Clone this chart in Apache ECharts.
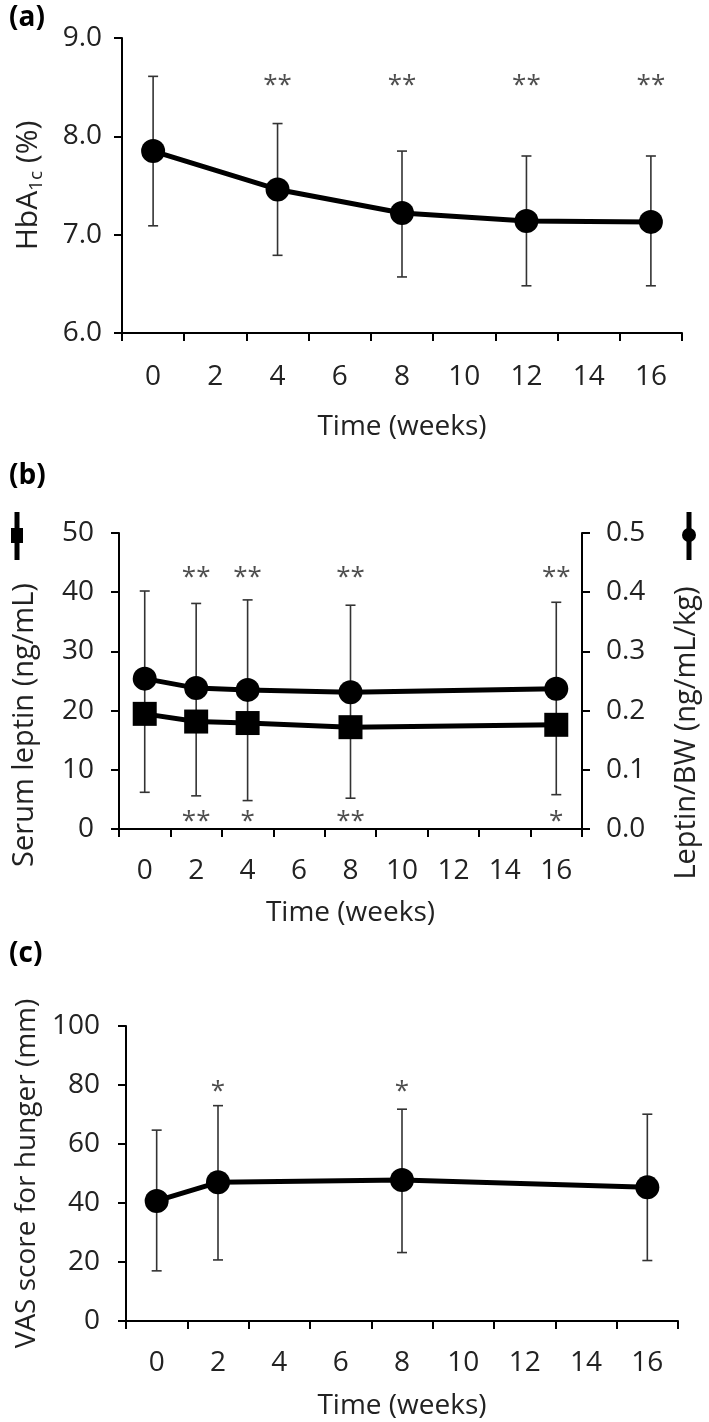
<!DOCTYPE html>
<html>
<head>
<meta charset="utf-8">
<script src="https://cdn.jsdelivr.net/npm/echarts@6/dist/echarts.min.js"></script>
<style>
html,body{margin:0;padding:0;background:#fff;}
#c{width:709px;height:1422px;}
</style>
</head>
<body>
<div id="c"></div>
<script>
// ---- data ----
const ticksX = ['0','2','4','6','8','10','12','14','16'];

// (a) HbA1c
const weeksA = ['0','4','8','12','16'];
const hba1cMean = [7.85, 7.46, 7.22, 7.14, 7.13];
const hba1cHigh = [8.61, 8.13, 7.85, 7.80, 7.80];
const hba1cLow  = [7.09, 6.79, 6.57, 6.48, 6.48];
const starsAWeeks = ['4','8','12','16'];
const starsAText  = ['**','**','**','**'];

// (b) leptin
const weeksB = ['0','2','4','8','16'];
const leptinMean = [19.45, 18.15, 17.9, 17.2, 17.6];
const leptinLow  = [6.2, 5.6, 4.8, 5.2, 5.8];
const ratioMean  = [0.254, 0.238, 0.235, 0.231, 0.237];
const ratioHigh  = [0.402, 0.381, 0.387, 0.378, 0.383];
const starsBTopWeeks = ['2','4','8','16'];
const starsBTopText  = ['**','**','**','**'];
const starsBBotWeeks = ['2','4','8','16'];
const starsBBotText  = ['**','*','**','*'];

// (c) VAS hunger
const weeksC = ['0','2','8','16'];
const vasMean = [40.7, 47.0, 47.8, 45.3];
const vasHigh = [64.7, 73.0, 71.8, 70.1];
const vasLow  = [17.0, 20.7, 23.2, 20.5];
const starsCWeeks = ['2','8'];
const starsCText  = ['*','*'];

// ---- styling ----
const FONT = '"Open Sans", "Noto Sans", sans-serif';
const TXT = '#222';
const ERR = '#333';
const chart = echarts.init(document.getElementById('c'), null, {renderer:'canvas'});

function capLine(x1,y1,x2,y2){
  return {type:'line', shape:{x1,y1,x2,y2}, style:{stroke:ERR, lineWidth:1.6}};
}
function errRender(capTop, capBottom, extendFn){
  return function(params, api){
    const x = api.value(0), lo = api.value(1), hi = api.value(2);
    const pLo = api.coord([x, lo]);
    const pHi = api.coord([x, hi]);
    let top = pHi[1], bot = pLo[1];
    if (extendFn) { const e = extendFn(params.dataIndex); if (e != null) top = Math.min(top, e); }
    const w = 5;
    const ch = [capLine(pLo[0], bot, pLo[0], top)];
    if (capTop) ch.push(capLine(pHi[0]-w, pHi[1], pHi[0]+w, pHi[1]));
    if (capBottom) ch.push(capLine(pLo[0]-w, pLo[1], pLo[0]+w, pLo[1]));
    return {type:'group', children: ch};
  };
}

function xAxisCfg(gi, nameGap, labelMargin){
  return {
    type:'category', gridIndex:gi, data:ticksX, boundaryGap:true,
    name:'Time (weeks)', nameLocation:'middle', nameGap:nameGap,
    nameTextStyle:{fontSize:28, color:TXT, fontFamily:FONT},
    axisLine:{lineStyle:{color:'#000', width:2}},
    axisTick:{show:true, inside:false, length:8, alignWithLabel:false, interval:0, lineStyle:{color:'#000', width:2}},
    axisLabel:{fontSize:28, color:TXT, fontFamily:FONT, margin:labelMargin, interval:0},
    splitLine:{show:false}
  };
}
function yAxisCfg(gi, o){
  return Object.assign({
    type:'value', gridIndex:gi,
    nameLocation:'middle', nameRotate:90,
    nameTextStyle:{fontSize:28, color:TXT, fontFamily:FONT},
    axisLine:{show:true, lineStyle:{color:'#000', width:2}},
    axisTick:{show:true, inside:false, length:8, lineStyle:{color:'#000', width:2}},
    splitLine:{show:false}
  }, o);
}

function pairs(weeks, vals){ return weeks.map((w,i)=>[w, vals[i]]); }
function triples(weeks, lo, hi){ return weeks.map((w,i)=>[w, lo[i], hi[i]]); }
function starSeries(xi, yi, weeks, texts, level){
  return {
    type:'scatter', xAxisIndex:xi, yAxisIndex:yi, symbolSize:0, silent:true, z:5,
    data: weeks.map((w,i)=>({value:[w, level], name:texts[i]})),
    label:{show:true, position:'inside', formatter:'{b}', fontSize:26, color:'#222', fontFamily:FONT, offset:[0,7]}
  };
}

const option = {
  animation:false,
  backgroundColor:'#fff',
  textStyle:{fontFamily:FONT},
  grid:[
    {left:122, top:38, width:560, height:295},
    {left:119, top:533, width:465, height:296},
    {left:126, top:1026, width:552, height:295}
  ],
  xAxis:[ xAxisCfg(0, 80, 30), xAxisCfg(1, 70, 28), xAxisCfg(2, 71, 28) ],
  yAxis:[
    yAxisCfg(0, {min:6, max:9, interval:1, name:'{m|HbA}{s|1c}{m| (%)}', nameGap:76,
      nameTextStyle:{fontSize:30, color:TXT, fontFamily:FONT,
        rich:{m:{fontSize:30, color:TXT, fontFamily:FONT, lineHeight:36}, s:{fontSize:19, color:TXT, fontFamily:FONT, lineHeight:13, verticalAlign:'bottom'}}},
      axisLabel:{fontSize:28, color:TXT, fontFamily:FONT, margin:20, formatter:v=>v.toFixed(1)}}),
    yAxisCfg(1, {min:0, max:50, interval:10, name:'Serum leptin (ng/mL)', nameGap:80,
      nameTextStyle:{fontSize:29, color:TXT, fontFamily:FONT, padding:[0,88,0,0]},
      axisLabel:{fontSize:28, color:TXT, fontFamily:FONT, margin:25}}),
    yAxisCfg(1, {position:'right', min:0, max:0.5, interval:0.1, name:'Leptin/BW (ng/mL/kg)', nameGap:90, nameRotate:90,
      nameTextStyle:{fontSize:29, color:TXT, fontFamily:FONT, padding:[0,104,0,0]},
      axisLabel:{fontSize:28, color:TXT, fontFamily:FONT, margin:24, formatter:v=>v.toFixed(1)}}),
    yAxisCfg(2, {min:0, max:100, interval:20, name:'VAS score for hunger (mm)', nameGap:80,
      nameTextStyle:{fontSize:28, color:TXT, fontFamily:FONT},
      axisLabel:{fontSize:28, color:TXT, fontFamily:FONT, margin:26}})
  ],
  graphic:[
    {type:'text', left:9, top:4, style:{text:'(a)', font:'bold 28px "Open Sans"', fill:'#000'}},
    {type:'text', left:9, top:462, style:{text:'(b)', font:'bold 28px "Open Sans"', fill:'#000'}},
    {type:'text', left:9, top:940, style:{text:'(c)', font:'bold 28px "Open Sans"', fill:'#000'}},
    // legend keys for panel (b)
    {type:'group', left:11, top:512, children:[
      {type:'rect', shape:{x:3.5, y:0, width:5, height:48}, style:{fill:'#000'}},
      {type:'rect', shape:{x:0, y:16, width:12, height:15}, style:{fill:'#000'}}
    ]},
    {type:'group', left:682, top:512, children:[
      {type:'rect', shape:{x:4.5, y:0, width:5, height:48}, style:{fill:'#000'}},
      {type:'circle', shape:{cx:7, cy:23, r:7}, style:{fill:'#000'}}
    ]}
  ],
  series:[
    // (a)
    {type:'custom', xAxisIndex:0, yAxisIndex:0, z:2, silent:true,
      renderItem: errRender(true, true), encode:{x:0, y:[1,2]},
      data: triples(weeksA, hba1cLow, hba1cHigh)},
    {type:'line', xAxisIndex:0, yAxisIndex:0, z:3, data:pairs(weeksA, hba1cMean),
      symbol:'circle', symbolSize:24, itemStyle:{color:'#000'}, lineStyle:{color:'#000', width:5}},
    starSeries(0, 0, starsAWeeks, starsAText, 8.59),
    // (b)
    {type:'custom', xAxisIndex:1, yAxisIndex:2, z:2, silent:true,
      renderItem: errRender(true, false), encode:{x:0, y:[1,2]},
      data: triples(weeksB, ratioMean, ratioHigh)},
    {type:'custom', xAxisIndex:1, yAxisIndex:1, z:2, silent:true,
      renderItem: errRender(false, true, function(i){
        try { return chart.convertToPixel({yAxisIndex:2}, ratioMean[i]); } catch(e){ return null; }
      }), encode:{x:0, y:[1,2]},
      data: triples(weeksB, leptinLow, leptinMean)},
    {type:'line', xAxisIndex:1, yAxisIndex:2, z:3, data:pairs(weeksB, ratioMean),
      symbol:'circle', symbolSize:24, itemStyle:{color:'#000'}, lineStyle:{color:'#000', width:5}},
    {type:'line', xAxisIndex:1, yAxisIndex:1, z:3, data:pairs(weeksB, leptinMean),
      symbol:'rect', symbolSize:24, itemStyle:{color:'#000'}, lineStyle:{color:'#000', width:5}},
    starSeries(1, 1, starsBTopWeeks, starsBTopText, 43.6),
    starSeries(1, 1, starsBBotWeeks, starsBBotText, 2.4),
    // (c)
    {type:'custom', xAxisIndex:2, yAxisIndex:3, z:2, silent:true,
      renderItem: errRender(true, true), encode:{x:0, y:[1,2]},
      data: triples(weeksC, vasLow, vasHigh)},
    {type:'line', xAxisIndex:2, yAxisIndex:3, z:3, data:pairs(weeksC, vasMean),
      symbol:'circle', symbolSize:24, itemStyle:{color:'#000'}, lineStyle:{color:'#000', width:5}},
    starSeries(2, 3, starsCWeeks, starsCText, 80)
  ]
};
chart.setOption(option);
</script>
</body>
</html>
